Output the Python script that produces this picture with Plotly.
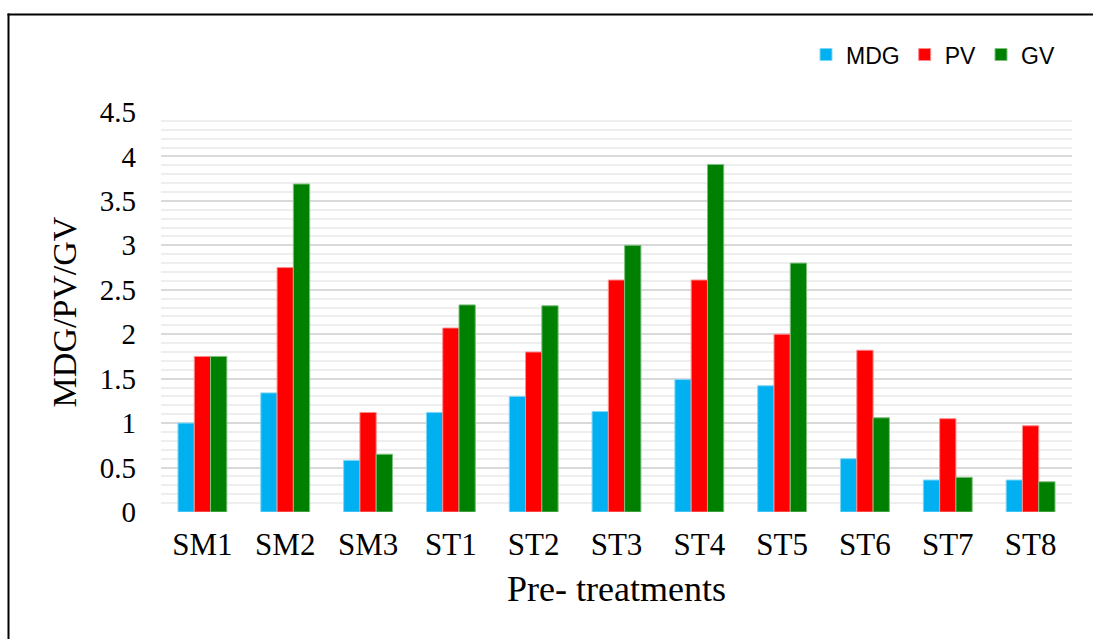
import plotly.graph_objects as go

categories = ["SM1", "SM2", "SM3", "ST1", "ST2", "ST3", "ST4", "ST5", "ST6", "ST7", "ST8"]
mdg = [1.00, 1.34, 0.58, 1.12, 1.30, 1.13, 1.49, 1.42, 0.60, 0.36, 0.36]
pv = [1.75, 2.75, 1.12, 2.07, 1.80, 2.61, 2.61, 2.00, 1.82, 1.05, 0.97]
gv = [1.75, 3.69, 0.65, 2.33, 2.32, 3.00, 3.91, 2.80, 1.06, 0.39, 0.34]
y_ticks = [0, 0.5, 1, 1.5, 2, 2.5, 3, 3.5, 4, 4.5]
y_tick_text = ["0", "0.5", "1", "1.5", "2", "2.5", "3", "3.5", "4", "4.5"]

W, H = 1093, 639
L, R, T, B = 161, 21, 111.5, 127
pw, ph = W - L - R, H - T - B

fig = go.Figure()
series = [("MDG", mdg, "#00B0F0", "#7fd7f7"),
          ("PV", pv, "#FF0000", "#ff8c8c"),
          ("GV", gv, "#008000", "#7fbf7f")]
for name, vals, col, edge in series:
    fig.add_trace(go.Bar(x=categories, y=vals, name=name,
                         marker=dict(color=col, line=dict(color=edge, width=1))))

def px_x(p):
    return (p - L) / pw

def px_y(p):
    return (H - B - p) / ph

fig.update_layout(
    width=W, height=H,
    margin=dict(l=L, r=R, t=T, b=B, pad=0),
    paper_bgcolor="white", plot_bgcolor="white",
    barmode="group", bargap=0.41, bargroupgap=0,
    font=dict(family="Liberation Serif", color="#000000"),
    legend=dict(orientation="h", x=px_x(1060), xanchor="right",
                y=px_y(54), yanchor="middle",
                font=dict(family="Liberation Sans", size=23, color="#000000"),
                itemwidth=30, traceorder="normal", bgcolor="rgba(0,0,0,0)"),
    xaxis=dict(showgrid=False, showline=False, zeroline=False,
               tickfont=dict(size=31), ticklabelstandoff=11,
               title=dict(text="Pre- treatments", font=dict(size=36), standoff=14)),
    yaxis=dict(range=[0, 4.5], tickvals=y_ticks, ticktext=y_tick_text,
               showgrid=True, gridcolor="#d9d9d9", gridwidth=1.5,
               zeroline=False, showline=False,
               minor=dict(dtick=0.1, showgrid=True, gridcolor="#eeeeee", gridwidth=1.5),
               tickfont=dict(size=29), ticklabelstandoff=24,
               title=dict(text="MDG/PV/GV", font=dict(size=34), standoff=12)),
    shapes=[
        dict(type="line", xref="paper", yref="paper",
             x0=px_x(8.5), x1=px_x(8.5), y0=px_y(13), y1=px_y(660),
             line=dict(color="black", width=2)),
        dict(type="line", xref="paper", yref="paper",
             x0=px_x(7.5), x1=px_x(1110), y0=px_y(14), y1=px_y(14),
             line=dict(color="black", width=2)),
    ],
)

fig.write_html("out.html")
